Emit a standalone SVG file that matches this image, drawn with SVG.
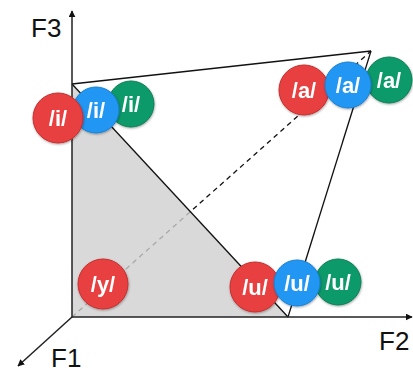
<svg xmlns="http://www.w3.org/2000/svg" width="413" height="372" viewBox="0 0 413 372">
<defs>
<style>
.axis{stroke:#222;stroke-width:1.5;fill:none}
.edge{stroke:#111;stroke-width:1.3;fill:none}
.lab{font-family:"Liberation Sans",Arial,sans-serif;font-size:26px;fill:#111}
.v{font-family:"Liberation Sans",Arial,sans-serif;font-size:22px;font-weight:bold;fill:#fff;text-anchor:middle}
.r{fill:#e8403f;stroke:#c42e2e;stroke-width:1}
.b{fill:#2196f3;stroke:#1a7fd0;stroke-width:1}
.g{fill:#0d9a6a;stroke:#0a7d55;stroke-width:1}
</style>
<marker id="ah" viewBox="0 0 10 10" refX="9" refY="5" markerWidth="7" markerHeight="7" orient="auto" markerUnits="userSpaceOnUse">
<path d="M0,0 L10,5 L0,10 z" fill="#111"/>
</marker>
<filter id="sh" x="-20%" y="-20%" width="140%" height="140%">
<feDropShadow dx="0.5" dy="1" stdDeviation="0.8" flood-color="#000" flood-opacity="0.35"/>
</filter>
</defs>
<g id="connectors">
<line class="edge" x1="72" y1="317" x2="371" y2="51" stroke-dasharray="5,4"/>
<polygon id="triangle" points="72,84 72,317 288,317" fill="#cfcfcf" fill-opacity="0.8" stroke="none"/>
<line class="edge" x1="72" y1="84" x2="288" y2="317"/>
<line class="edge" x1="72" y1="84" x2="371" y2="51"/>
<line class="edge" x1="371" y1="51" x2="288" y2="317"/>
<line class="axis" x1="72" y1="317" x2="72" y2="11" marker-end="url(#ah)"/>
<line class="axis" x1="72" y1="317" x2="412" y2="317" marker-end="url(#ah)"/>
<line class="axis" x1="72" y1="317" x2="18" y2="366" marker-end="url(#ah)"/>
</g>
<g id="labels">
<text class="lab" x="31" y="37">F3</text>
<text class="lab" x="379" y="350">F2</text>
<text class="lab" x="51" y="367">F1</text>
</g>
<g id="i-green" filter="url(#sh)"><circle class="g" cx="131" cy="104" r="23"/><text class="v" x="131" y="112">/i/</text></g>
<g id="i-blue" filter="url(#sh)"><circle class="b" cx="96" cy="110" r="23"/><text class="v" x="96" y="118">/i/</text></g>
<g id="i-red" filter="url(#sh)"><circle class="r" cx="58" cy="118" r="25"/><text class="v" x="58" y="126">/i/</text></g>
<g id="a-red" filter="url(#sh)"><circle class="r" cx="304" cy="90" r="25"/><text class="v" x="304" y="98">/a/</text></g>
<g id="a-green" filter="url(#sh)"><circle class="g" cx="389" cy="80" r="23"/><text class="v" x="389" y="88">/a/</text></g>
<g id="a-blue" filter="url(#sh)"><circle class="b" cx="348" cy="85" r="23"/><text class="v" x="348" y="93">/a/</text></g>
<g id="u-red" filter="url(#sh)"><circle class="r" cx="255" cy="287" r="25"/><text class="v" x="255" y="295">/u/</text></g>
<g id="u-green" filter="url(#sh)"><circle class="g" cx="338" cy="282" r="23"/><text class="v" x="338" y="290">/u/</text></g>
<g id="u-blue" filter="url(#sh)"><circle class="b" cx="297" cy="283" r="23"/><text class="v" x="297" y="291">/u/</text></g>
<g id="y-red" filter="url(#sh)"><circle class="r" cx="103" cy="284" r="25"/><text class="v" x="103" y="292">/y/</text></g>
</svg>
